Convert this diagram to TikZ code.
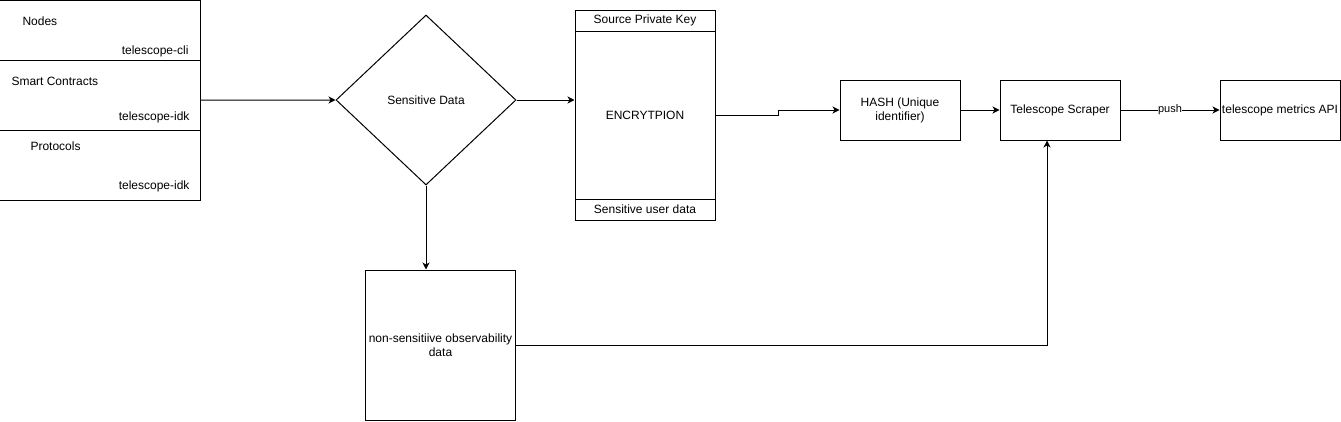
\documentclass[tikz,border=0pt]{standalone}
\usepackage{fontspec}
\setmainfont{Liberation Sans}
\usetikzlibrary{shapes.geometric,arrows.meta}

\begin{document}
\begin{tikzpicture}[x=1bp, y=-1bp, line width=1bp,
    every node/.style={inner sep=0pt, font=\fontsize{12bp}{14bp}\selectfont},
    box/.style={draw, rectangle},
    arr/.style={-{Stealth[length=7bp, width=7bp, inset=2bp]}}]
            \useasboundingbox (0,0) rectangle (1341,421);

            \node[box, minimum width=200bp, minimum height=60bp] (rowA) at (100,30) {};
            \node[box, minimum width=200bp, minimum height=70bp] (rowB) at (100,95) {};
            \node[box, minimum width=200bp, minimum height=70bp] (rowC) at (100,165) {};
            \node[anchor=west] (nodesL) at (22,21) {Nodes};
            \node[anchor=east] (cliL) at (189,51) {telescope-cli};
            \node[anchor=west] (contractsL) at (11,81) {Smart Contracts};
            \node[anchor=east] (idkL) at (190,117) {telescope-idk};
            \node[anchor=west] (protocolsL) at (30,146) {Protocols};
            \node[anchor=east] (idkM) at (190,186) {telescope-idk};

            \node[draw, diamond, minimum width=180bp, minimum height=170bp] (dec) at (426,100) {Sensitive Data};

            \node[box, minimum width=140bp, minimum height=210bp] (enc) at (645,115) {ENCRYTPION};
            \node[box, minimum width=140bp, minimum height=21bp] (enchead) at (645,20.5) {Source Private Key};
            \node[box, minimum width=140bp, minimum height=21bp] (encfoot) at (645,209.5) {Sensitive user data};

            \node[box, minimum width=120bp, minimum height=60bp, align=center] (hash) at (900,110) {HASH (Unique\\identifier)};
            \node[box, minimum width=120bp, minimum height=60bp] (scraper) at (1060,110) {Telescope Scraper};
            \node[box, minimum width=120bp, minimum height=60bp] (api) at (1280,110) {telescope metrics API};

            \node[box, minimum width=150bp, minimum height=150bp, align=center] (nonsens) at (440.5,345) {non-sensitiive observability\\data};

            \draw[arr] ([yshift=-5bp]rowB.east) -- (dec.west);
            \draw[arr] (dec.east) -- (dec.east -| enc.west);
            \draw[arr] (enc.east) -- ++(63,0) |- (hash.west);
            \draw[arr] (hash.east) -- (scraper.west);
            \draw[arr] (scraper.east) -- node[fill=white, font=\fontsize{11bp}{13bp}\selectfont] {push} (api.west);
            \draw[arr] (dec.south) -- (dec.south |- nonsens.north);
            \draw[arr] (nonsens.east) -| ([xshift=-13bp]scraper.south);
        \end{tikzpicture}
\end{document}
